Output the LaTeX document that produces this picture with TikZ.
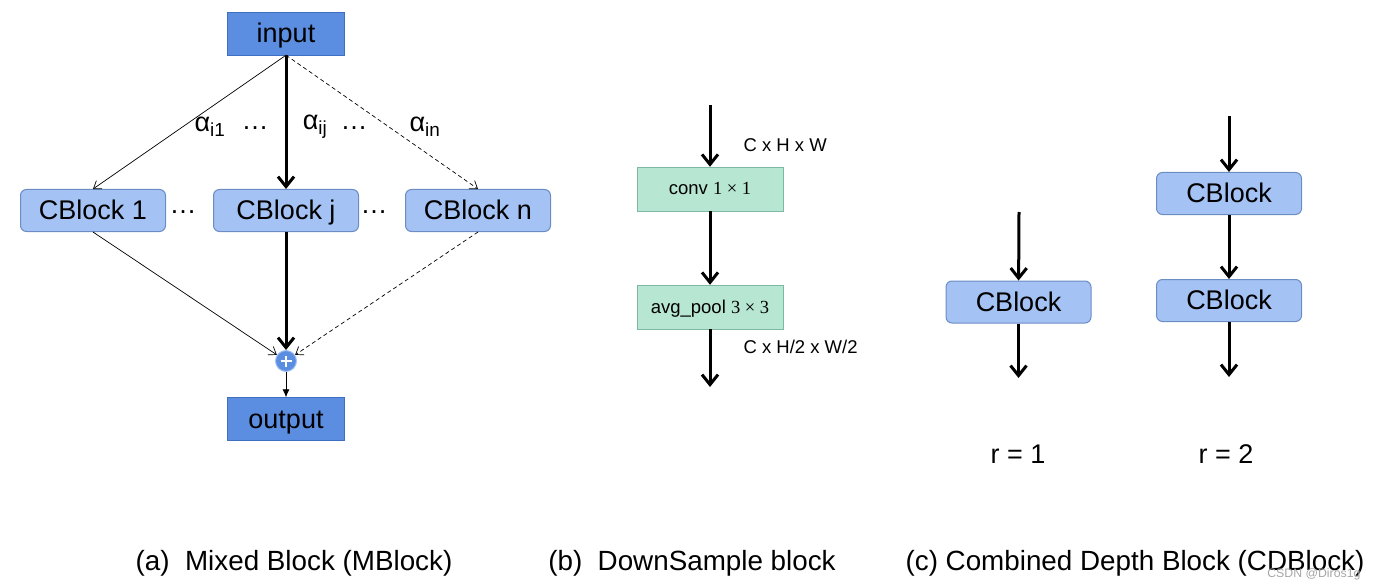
\documentclass[tikz,border=0pt]{standalone}
\usepackage{fontspec}
\setmainfont{Liberation Sans}
\newfontfamily\numserif{Liberation Serif}
\usepackage{tikz}
\usetikzlibrary{arrows.meta}

\definecolor{ioblue}{HTML}{5B8EE0}
\definecolor{ioedge}{HTML}{3F6FC0}
\definecolor{cbfill}{HTML}{A4C2F4}
\definecolor{cbedge}{HTML}{6C8CC4}
\definecolor{mint}{HTML}{B7E7D3}
\definecolor{mintedge}{HTML}{7DB8A2}

\tikzset{
    iobox/.style={draw=ioedge, fill=ioblue, minimum width=117pt, minimum height=43pt, inner sep=0pt, text height=24pt, text depth=6pt, font=\fontsize{27}{30}\selectfont},
    cblock/.style={draw=cbedge, fill=cbfill, rounded corners=6pt, line width=1pt, minimum width=145pt, minimum height=42pt, inner sep=0pt, text height=24pt, text depth=6pt, font=\fontsize{27}{30}\selectfont},
    opbox/.style={draw=mintedge, fill=mint, minimum width=146pt, minimum height=44pt, inner sep=0pt, text height=16pt, text depth=4pt, font=\fontsize{18.5}{22}\selectfont},
    bigtext/.style={font=\fontsize{27}{30}\selectfont},
    captext/.style={font=\fontsize{27.8}{32}\selectfont},
    dimtext/.style={font=\fontsize{18.5}{22}\selectfont},
    thinarr/.style={-{Straight Barb[length=7pt,width=10pt]}, line width=0.7pt},
    thickarr/.style={-{Straight Barb[length=10pt,width=16pt]}, line width=3pt},
}

\begin{document}
\begin{tikzpicture}[x=1pt,y=-1pt]

    \useasboundingbox (0,0) rectangle (1378,588);

    % (a) mixed block
    \node[iobox] (inp) at (286,33.5) {input};
    \node[iobox] (outp) at (286,419) {output};

    \node[cblock] (cb1) at (93,210.5) {CBlock 1};
    \node[cblock] (cbj) at (286,210.5) {CBlock j};
    \node[cblock] (cbn) at (478,210.5) {CBlock n};
    \node[bigtext] (dl) at (183,212) {…};
    \node[bigtext] (dr) at (374,212) {…};

    \node[bigtext] (a1) at (210,127) {α\textsubscript{i1}};
    \node[bigtext] (da) at (255,128) {…};
    \node[bigtext] (aj) at (315,127) {α\textsubscript{ij}};
    \node[bigtext] (db) at (354,128) {…};
    \node[bigtext] (an) at (425,127) {α\textsubscript{in}};

    \node[circle, fill=ioblue, draw=cbfill, line width=1pt, minimum size=21pt, inner sep=0pt] (plus) at (286,361) {};
    \draw[white, line width=2.2pt] ([xshift=-5.5pt]plus.center) -- ([xshift=5.5pt]plus.center);
    \draw[white, line width=2.2pt] ([yshift=-5.5pt]plus.center) -- ([yshift=5.5pt]plus.center);

    \draw[thinarr] (inp.south) -- (cb1.north);
    \draw[thickarr] (inp.south) -- (cbj.north);
    \draw[thinarr, dash pattern=on 4pt off 3pt] (inp.south) -- (cbn.north);
    \draw[thinarr] (cb1.south) -- (plus);
    \draw[thickarr] (cbj.south) -- (plus);
    \draw[thinarr, dash pattern=on 4pt off 3pt] (cbn.south) -- (plus);
    \draw[-{Latex[length=8pt,width=7pt]}, line width=0.8pt] (plus) -- (outp);

    % (b) downsample block
    \coordinate (bin) at (710,105);
    \node[opbox] (conv) at (710,189) {conv {\numserif 1 × 1}};
    \node[opbox] (pool) at (710,307) {avg\_pool {\numserif 3 × 3}};
    \coordinate (bout) at (710,387);
    \node[dimtext, anchor=west] (din) at (740,145) {C x H x W};
    \node[dimtext, anchor=west] (dout) at (740,347) {C x H/2 x W/2};

    \draw[thickarr] (bin) -- (conv);
    \draw[thickarr] (conv) -- (pool);
    \draw[thickarr] (pool) -- (bout);

    % (c) combined depth block
    \coordinate (r1in) at (1019,212);
    \node[cblock] (cbr) at (1018.5,302) {CBlock};
    \coordinate (r1out) at (1018.5,378);

    \coordinate (r2in) at (1229,116);
    \node[cblock] (cbs) at (1229,193.5) {CBlock};
    \node[cblock] (cbt) at (1229,300.5) {CBlock};
    \coordinate (r2out) at (1229,377);

    \draw[thickarr] (r1in) -- (cbr);
    \draw[thickarr] (cbr) -- (r1out);
    \draw[thickarr] (r2in) -- (cbs);
    \draw[thickarr] (cbs) -- (cbt);
    \draw[thickarr] (cbt) -- (r2out);

    \node[bigtext] (r1) at (1018,454) {r = 1};
    \node[bigtext] (r2) at (1226,454) {r = 2};

    % captions
    \node[captext] (capa) at (294,563) {(a)\ \ Mixed Block (MBlock)};
    \node[captext] (capb) at (692,563) {(b)\ \ DownSample block};
    \node[captext] (capc) at (1135,563) {(c) Combined Depth Block (CDBlock)};
    \node[font=\fontsize{12.3}{14}\selectfont, text=gray!70, anchor=east] (wm) at (1364,574) {CSDN @Diros1g};

\end{tikzpicture}
\end{document}
